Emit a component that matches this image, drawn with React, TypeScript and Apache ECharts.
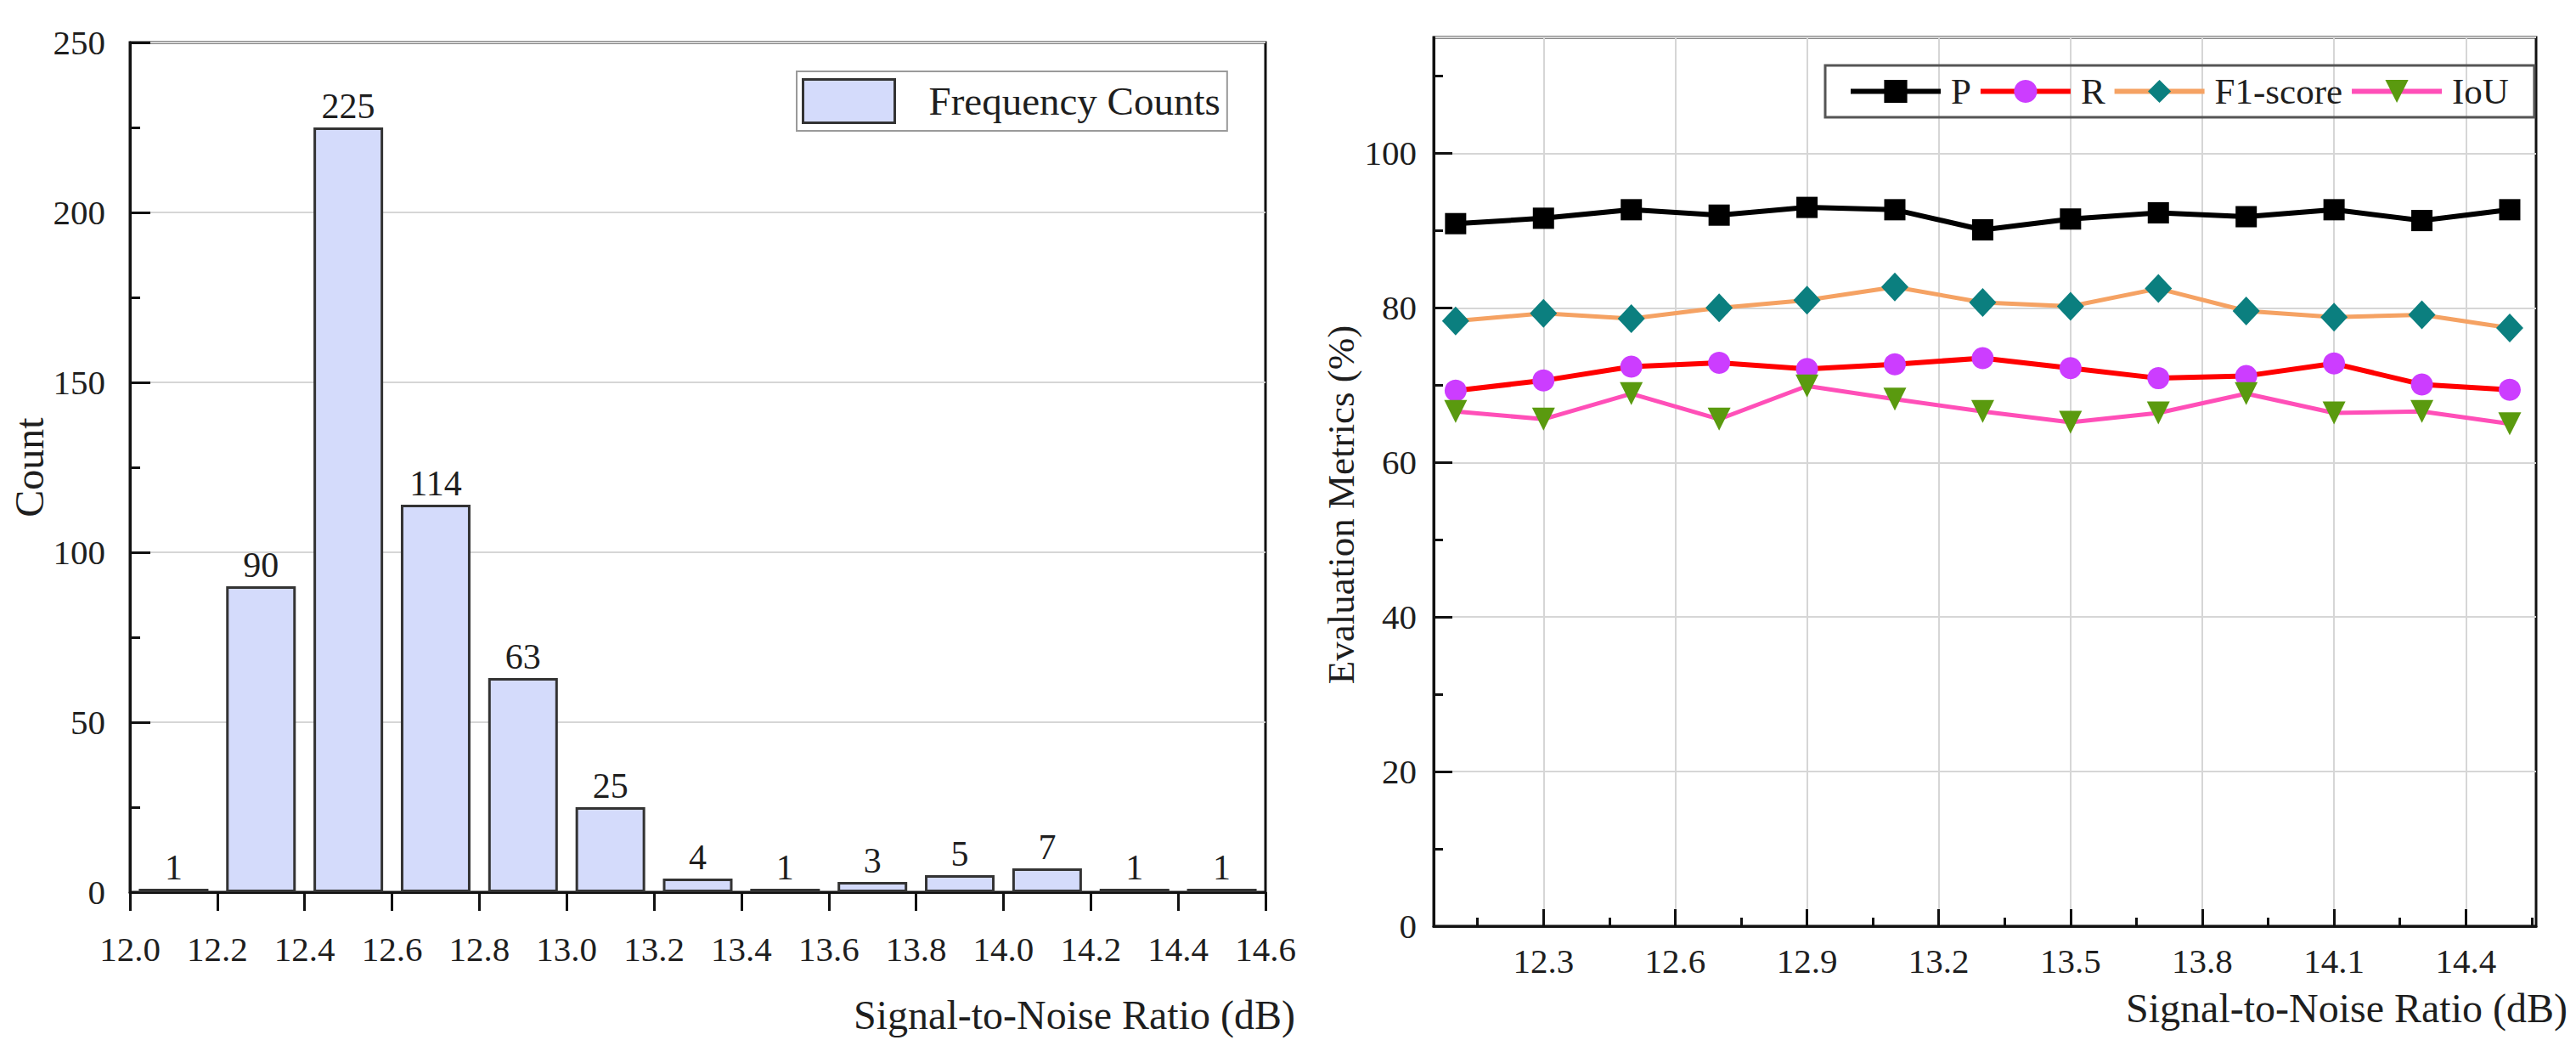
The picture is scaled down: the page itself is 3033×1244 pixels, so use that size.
import { useEffect, useRef } from 'react';
import * as echarts from 'echarts';

// histogram (left)
const binCenters = [12.1, 12.3, 12.5, 12.7, 12.9, 13.1, 13.3, 13.5, 13.7, 13.9, 14.1, 14.3, 14.5];
const counts = [1, 90, 225, 114, 63, 25, 4, 1, 3, 5, 7, 1, 1];

// metrics (right)
const snr = [12.1, 12.3, 12.5, 12.7, 12.9, 13.1, 13.3, 13.5, 13.7, 13.9, 14.1, 14.3, 14.5];
const precision = [90.9, 91.6, 92.7, 92.0, 93.0, 92.7, 90.1, 91.5, 92.3, 91.8, 92.7, 91.3, 92.7];
const recall = [69.3, 70.6, 72.4, 72.9, 72.1, 72.7, 73.5, 72.2, 70.9, 71.2, 72.8, 70.1, 69.4];
const f1 = [78.3, 79.3, 78.6, 80.0, 81.0, 82.7, 80.7, 80.2, 82.5, 79.6, 78.8, 79.1, 77.4];
const iou = [66.6, 65.6, 68.9, 65.6, 69.9, 68.2, 66.6, 65.2, 66.4, 68.9, 66.4, 66.6, 65.0];

// tick positions of the right chart
const rightMajorTicks = [12.3, 12.6, 12.9, 13.2, 13.5, 13.8, 14.1, 14.4];
const rightMinorTicks = [12.15, 12.45, 12.75, 13.05, 13.35, 13.65, 13.95, 14.25, 14.55];
const rightYMinorTicks = [10, 30, 50, 70, 90, 110];

const FONT = "'Liberation Serif', 'Times New Roman', serif";
const TEXT = '#1e1e1e';
const BAR_FILL = '#d4dbfb';
const GRID_LINE = '#d6d6d6';

const App: React.FC = () => {
  const chartRef = useRef<HTMLDivElement>(null);

  useEffect(() => {
    if (!chartRef.current) return;
    const chart = echarts.init(chartRef.current, null, { renderer: 'svg' });

    const axisLine = { show: true, lineStyle: { color: '#111', width: 3 } };
    const label = (size: number) => ({ fontFamily: FONT, fontSize: size, color: TEXT });

    const lineSeries = (name: string, values: number[], lineColor: string, markColor: string,
      symbol: string, size: number | number[], width: number, rotate = 0) => ({
      type: 'line',
      name,
      xAxisIndex: 1,
      yAxisIndex: 1,
      data: snr.map((x, i) => [x, values[i]]),
      symbol,
      symbolSize: size,
      symbolRotate: rotate,
      showAllSymbol: true,
      lineStyle: { color: lineColor, width },
      itemStyle: { color: markColor, borderWidth: 0 },
      z: 3
    });

    const option: any = {
      animation: false,
      backgroundColor: '#fff',
      textStyle: { fontFamily: FONT, color: TEXT },
      grid: [
        { left: 153, top: 50, width: 1337, height: 1000, show: true, borderColor: '#111', borderWidth: 3, backgroundColor: 'transparent', outerBoundsMode: 'none' },
        { left: 1688, top: 44, width: 1298, height: 1046, show: true, borderColor: '#111', borderWidth: 3, backgroundColor: 'transparent', outerBoundsMode: 'none' }
      ],
      legend: [
        {
          data: ['Frequency Counts'],
          left: 938,
          top: 84,
          padding: [8, 8, 8, 6],
          itemWidth: 108,
          itemHeight: 51,
          icon: 'rect',
          itemStyle: { color: BAR_FILL, borderColor: '#333', borderWidth: 3 },
          borderColor: '#9a9a9a',
          borderWidth: 2,
          textStyle: { ...label(47), padding: [0, 0, 0, 35] }
        },
        {
          data: ['P', 'R', 'F1-score', 'IoU'],
          left: 2149,
          top: 77,
          padding: [9, 30, 9, 27],
          itemWidth: 106,
          itemHeight: 34,
          itemGap: 8,
          lineStyle: { width: 6 },
          borderColor: '#555',
          borderWidth: 3,
          textStyle: { ...label(43), padding: [0, 0, 0, 7] }
        }
      ],
      xAxis: [
        {
          type: 'value',
          gridIndex: 0,
          min: 12,
          max: 14.6,
          interval: 0.2,
          axisLine,
          axisTick: { show: true, inside: false, length: 22, lineStyle: { color: '#111', width: 3 } },
          axisLabel: { ...label(41), margin: 46, formatter: (v: number) => v.toFixed(1) },
          splitLine: { show: false },
          name: 'Signal-to-Noise Ratio (dB)',
          nameLocation: 'end',
          nameGap: 35,
          nameTextStyle: { ...label(48), align: 'right', verticalAlign: 'top', padding: [120, 0, 0, 0] }
        },
        {
          type: 'value',
          gridIndex: 1,
          min: 12.05,
          max: 14.56,
          axisLine,
          axisTick: { show: true, inside: true, length: 20, customValues: rightMajorTicks, lineStyle: { color: '#111', width: 3 } },
          axisLabel: { ...label(41), margin: 20, customValues: rightMajorTicks, formatter: (v: number) => v.toFixed(1) },
          splitLine: { show: true, customValues: rightMajorTicks, lineStyle: { color: GRID_LINE, width: 2 } },
          name: 'Signal-to-Noise Ratio (dB)',
          nameLocation: 'end',
          nameGap: 37,
          nameTextStyle: { ...label(48), align: 'right', verticalAlign: 'top', padding: [72, 0, 0, 0] }
        },
        {
          type: 'value',
          gridIndex: 1,
          position: 'bottom',
          min: 12.05,
          max: 14.56,
          axisLine: { show: false },
          axisTick: { show: true, inside: true, length: 10, customValues: rightMinorTicks, lineStyle: { color: '#111', width: 3 } },
          axisLabel: { show: false },
          splitLine: { show: false }
        }
      ],
      yAxis: [
        {
          type: 'value',
          gridIndex: 0,
          min: 0,
          max: 250,
          interval: 50,
          axisLine,
          axisTick: { show: true, inside: true, length: 24, lineStyle: { color: '#111', width: 3 } },
          minorTick: { show: true, splitNumber: 2, length: 12, lineStyle: { color: '#111', width: 3 } },
          axisLabel: { ...label(41), margin: 29 },
          splitLine: { show: true, lineStyle: { color: GRID_LINE, width: 2 } },
          name: 'Count',
          nameLocation: 'middle',
          nameGap: 94,
          nameTextStyle: label(48)
        },
        {
          type: 'value',
          gridIndex: 1,
          min: 0,
          max: 115,
          interval: 20,
          axisLine,
          axisTick: { show: true, inside: true, length: 22, lineStyle: { color: '#111', width: 3 } },
          axisLabel: { ...label(41), margin: 20, showMaxLabel: false },
          splitLine: { show: true, lineStyle: { color: GRID_LINE, width: 2 } },
          name: 'Evaluation Metrics (%)',
          nameLocation: 'middle',
          nameGap: 87,
          nameTextStyle: { ...label(45), padding: [0, 54, 0, 0] }
        },
        {
          type: 'value',
          gridIndex: 1,
          position: 'left',
          min: 0,
          max: 115,
          axisLine: { show: false },
          axisTick: { show: true, inside: true, length: 11, customValues: rightYMinorTicks, lineStyle: { color: '#111', width: 3 } },
          axisLabel: { show: false },
          splitLine: { show: false }
        }
      ],
      series: [
        {
          type: 'bar',
          name: 'Frequency Counts',
          xAxisIndex: 0,
          yAxisIndex: 0,
          data: binCenters.map((c, i) => [c, counts[i]]),
          barWidth: 82,
          itemStyle: { color: BAR_FILL, borderColor: '#333', borderWidth: 3 },
          label: { show: true, position: 'top', distance: 4, ...label(42) }
        },
        lineSeries('P', precision, '#000000', '#000000', 'rect', 25, 6),
        lineSeries('R', recall, '#ff0000', '#cc3dff', 'circle', 26, 6),
        lineSeries('F1-score', f1, '#f5a263', '#0b7f7f', 'diamond', [32, 34], 5),
        lineSeries('IoU', iou, '#ff4fb8', '#5a9a0f', 'triangle', 27, 5, 180)
      ]
    };

    chart.setOption(option);
    const onResize = () => chart.resize();
    window.addEventListener('resize', onResize);
    return () => {
      window.removeEventListener('resize', onResize);
      chart.dispose();
    };
  }, []);

  return (
    <div
      ref={chartRef}
      style={{ position: 'fixed', left: 0, top: 0, width: 3033, height: 1244, background: '#fff' }}
    />
  );
};

export default App;
